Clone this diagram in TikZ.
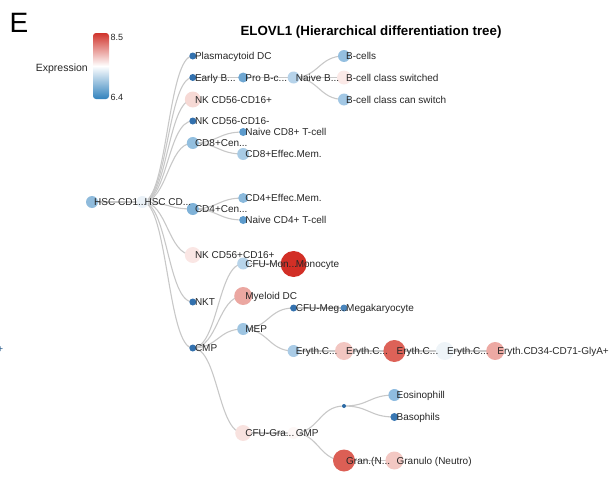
\documentclass[tikz,border=0pt]{standalone}
\usepackage{fontspec}
\setmainfont{Liberation Sans}
\usetikzlibrary{calc}
\pgfdeclarelayer{bg}
\pgfdeclarelayer{fg}
\pgfsetlayers{bg,main,fg}
\definecolor{txt}{HTML}{262626}
\definecolor{linkc}{HTML}{C8C8C8}
\definecolor{dk}{HTML}{3371AE}
\definecolor{cbred}{HTML}{D0342C}
\definecolor{cbblue}{HTML}{3182BD}
\newcommand\tn[6]{%
  \definecolor{fill-#1}{HTML}{#5}%
  \node[dot, minimum size=#4*2pt, fill=fill-#1] (#1) at (#2,#3) {};
  \begin{pgfonlayer}{fg}
  \node[lbl] (#1-l) at (#2+2,#3+3.5) {#6};
  \end{pgfonlayer}}
\newcommand\lk[2]{%
  \draw[link] let \p1=(#1.center), \p2=(#2.center) in
    (\p1) .. controls ({(\x1+\x2)/2},\y1) and ({(\x1+\x2)/2},\y2) .. (\p2);}
\begin{document}
\begin{tikzpicture}[x=1pt,y=-1pt,
  dot/.style={circle, inner sep=0pt, draw=none},
  lbl/.style={anchor=base west, inner sep=0pt, font=\fontsize{10}{12}\selectfont, text=txt},
  link/.style={draw=linkc, line width=1.1pt}]
\useasboundingbox (0,0) rectangle (616,479);
% title and panel letter
\node[anchor=base west, inner sep=0pt, font=\fontsize{28}{30}\selectfont] (E) at (9.5,32) {E};
\node[anchor=base, inner sep=0pt, font=\fontsize{13.3}{16}\selectfont\bfseries] (title) at (371,35.5) {ELOVL1 (Hierarchical differentiation tree)};
% legend
\shade[top color=cbred, bottom color=cbblue, middle color=white, rounded corners=3pt] (93,33) rectangle (109,99);
\node[anchor=base east, inner sep=0pt, font=\fontsize{10.5}{12}\selectfont, text=txt] (exl) at (88,71) {Expression};
\node[anchor=base west, inner sep=0pt, font=\fontsize{9}{11}\selectfont, text=txt] (hi) at (110.5,40) {8.5};
\node[anchor=base west, inner sep=0pt, font=\fontsize{9}{11}\selectfont, text=txt] (lo) at (110.5,100) {6.4};
\node[anchor=base east, inner sep=0pt, font=\fontsize{10}{12}\selectfont, text=dk!80!black] (frag) at (3.5,352.5) {+};
% depth 0-1
\tn{hsc1}{92}{202}{6}{8FBBDC}{HSC CD1...}
\tn{hsc2}{142.4}{202}{6}{EAF1F7}{HSC CD...}
% depth 2
\tn{pdc}{192.8}{56}{3.5}{3371AE}{Plasmacytoid DC}
\tn{earlyb}{192.8}{77.5}{3.5}{3371AE}{Early B...}
\tn{nka}{192.8}{99.5}{8}{F6D9D5}{NK CD56-CD16+}
\tn{nkb}{192.8}{121}{3.5}{3371AE}{NK CD56-CD16-}
\tn{cd8c}{192.8}{143}{6}{93BFDF}{CD8+Cen...}
\tn{cd4c}{192.8}{209}{6}{7FB2D8}{CD4+Cen...}
\tn{nkc}{192.8}{255}{8}{FAE6E4}{NK CD56+CD16+}
\tn{nkt}{192.8}{302}{3.5}{3371AE}{NKT}
\tn{cmp}{192.8}{348}{3.5}{3371AE}{CMP}
% depth 3
\tn{prob}{243.2}{77.5}{5}{6FA7D2}{Pro B-c...}
\tn{n8}{243.2}{132}{4}{5D9BCC}{Naive CD8+ T-cell}
\tn{e8}{243.2}{154}{6}{A8CBE5}{CD8+Effec.Mem.}
\tn{e4}{243.2}{198}{5}{8AB9DC}{CD4+Effec.Mem.}
\tn{n4}{243.2}{220}{4}{5D9BCC}{Naive CD4+ T-cell}
\tn{cfumon}{243.2}{263.5}{6}{B7D4EA}{CFU-Mon...}
\tn{mdc}{243.2}{296}{9}{EBA7A1}{Myeloid DC}
\tn{mep}{243.2}{329}{6}{9EC5E2}{MEP}
\tn{cfugra}{243.2}{433}{8}{F8E2DF}{CFU-Gra...}
% depth 4
\tn{naiveb}{293.6}{77.5}{6}{B6D3EA}{Naive B...}
\tn{mono}{293.6}{264}{13}{D22F26}{Monocyte}
\tn{cfumeg}{293.6}{308}{3.5}{3371AE}{CFU-Meg...}
\tn{erya}{293.6}{351}{6}{A9CBE6}{Eryth.C...}
\tn{gmp}{293.6}{433}{6}{FDF7F6}{GMP}
% depth 5
\tn{bcells}{344}{56}{6}{94BFE0}{B-cells}
\tn{bsw}{344}{77.5}{7}{FBE9E7}{B-cell class switched}
\tn{bcan}{344}{99.5}{6}{A2C7E4}{B-cell class can switch}
\tn{mega}{344}{308}{3.5}{4A86BD}{Megakaryocyte}
\tn{eryb}{344}{351}{9}{F2C6C1}{Eryth.C...}
\tn{gdot}{344}{406}{2}{2C6AA5}{}
\tn{gran}{344}{460.5}{11}{DC5F55}{Gran.(N...}
% depth 6
\tn{eryc}{394.4}{351}{11}{DD6258}{Eryth.C...}
\tn{eos}{394.4}{395}{6}{8FBCE0}{Eosinophill}
\tn{baso}{394.4}{417}{4}{3977B2}{Basophils}
\tn{granulo}{394.4}{460.5}{9}{F3C8C3}{Granulo (Neutro)}
% depth 7-8
\tn{eryd}{444.8}{351}{9}{EEF4F8}{Eryth.C...}
\tn{erye}{495.2}{351}{9}{EDA9A3}{Eryth.CD34-CD71-GlyA+}
% links
\begin{pgfonlayer}{bg}
\lk{hsc1}{hsc2}
\foreach \c in {pdc,earlyb,nka,nkb,cd8c,cd4c,nkc,nkt,cmp} {\lk{hsc2}{\c}}
\lk{earlyb}{prob} \lk{prob}{naiveb}
\foreach \c in {bcells,bsw,bcan} {\lk{naiveb}{\c}}
\lk{cd8c}{n8} \lk{cd8c}{e8}
\lk{cd4c}{e4} \lk{cd4c}{n4}
\foreach \c in {cfumon,mdc,mep,cfugra} {\lk{cmp}{\c}}
\lk{cfumon}{mono}
\lk{mep}{cfumeg} \lk{cfumeg}{mega}
\lk{mep}{erya} \lk{erya}{eryb} \lk{eryb}{eryc} \lk{eryc}{eryd} \lk{eryd}{erye}
\lk{cfugra}{gmp}
\lk{gmp}{gdot} \lk{gdot}{eos} \lk{gdot}{baso}
\lk{gmp}{gran} \lk{gran}{granulo}
\end{pgfonlayer}
\end{tikzpicture}
\end{document}
